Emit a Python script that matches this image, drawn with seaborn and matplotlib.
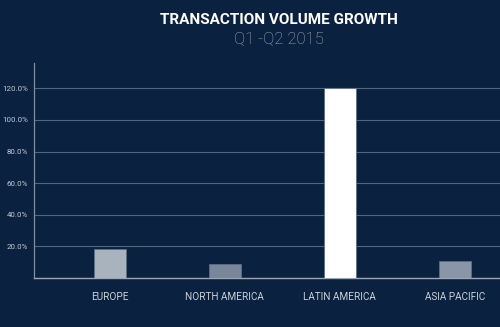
import matplotlib
matplotlib.use("Agg")
import matplotlib.pyplot as plt
import seaborn as sns
import pandas as pd
from matplotlib.ticker import FuncFormatter

regions = ["EUROPE", "NORTH AMERICA", "LATIN AMERICA", "ASIA PACIFIC"]
growth = [18.2, 9.1, 120.0, 11.0]
bar_colors = ["#a9b3be", "#7a879a", "#ffffff", "#8a96a6"]
yticks = [20, 40, 60, 80, 100, 120]

bg = "#0a2240"
sns.set_theme(style="dark")
plt.rcParams['font.family'] = ['Roboto', 'DejaVu Sans']

df = pd.DataFrame({"region": regions, "growth": growth})

fig = plt.figure(figsize=(5.0, 3.27), dpi=100, facecolor=bg)
ax = fig.add_axes([34/500, 1-278/327, (500-34)/500, (278-63)/327])
ax.set_facecolor(bg)

sns.barplot(data=df, x="region", y="growth", hue="region", palette=bar_colors,
            width=0.28, legend=False, ax=ax, saturation=1,
            edgecolor="#5d6f86", linewidth=0.6, zorder=3)

ax.set_xlim(-0.657, 3.392)
ax.set_ylim(0, 136)
ax.set_yticks(yticks)
ax.yaxis.set_major_formatter(FuncFormatter(lambda v, p: f"{v:.1f}%"))
ax.grid(axis="y", color="#51667f", linewidth=0.8, zorder=0)
ax.grid(axis="x", visible=False)
ax.set_axisbelow(True)
ax.set_xlabel("")
ax.set_ylabel("")
ax.tick_params(axis="y", colors="#c3cad3", labelsize=5.7, length=0, pad=4.5)
ax.tick_params(axis="x", colors="#c9d0d8", labelsize=7.2, length=0, pad=10)
for s in ["top", "right"]:
    ax.spines[s].set_visible(False)
ax.spines["left"].set_color("#7f8fa3")
ax.spines["left"].set_linewidth(0.9)
ax.spines["bottom"].set_color("#9aa6b5")
ax.spines["bottom"].set_linewidth(1.0)

fig.text(0.558, 1-20/327, "TRANSACTION VOLUME GROWTH", ha="center", va="center",
         color="white", fontsize=11.0, fontweight="bold")
fig.text(0.558, 1-40/327, "Q1 -Q2 2015", ha="center", va="center",
         color="#a6b0bc", fontsize=12.0, fontweight="light")

fig.savefig("out.png", dpi=100, facecolor=bg)
